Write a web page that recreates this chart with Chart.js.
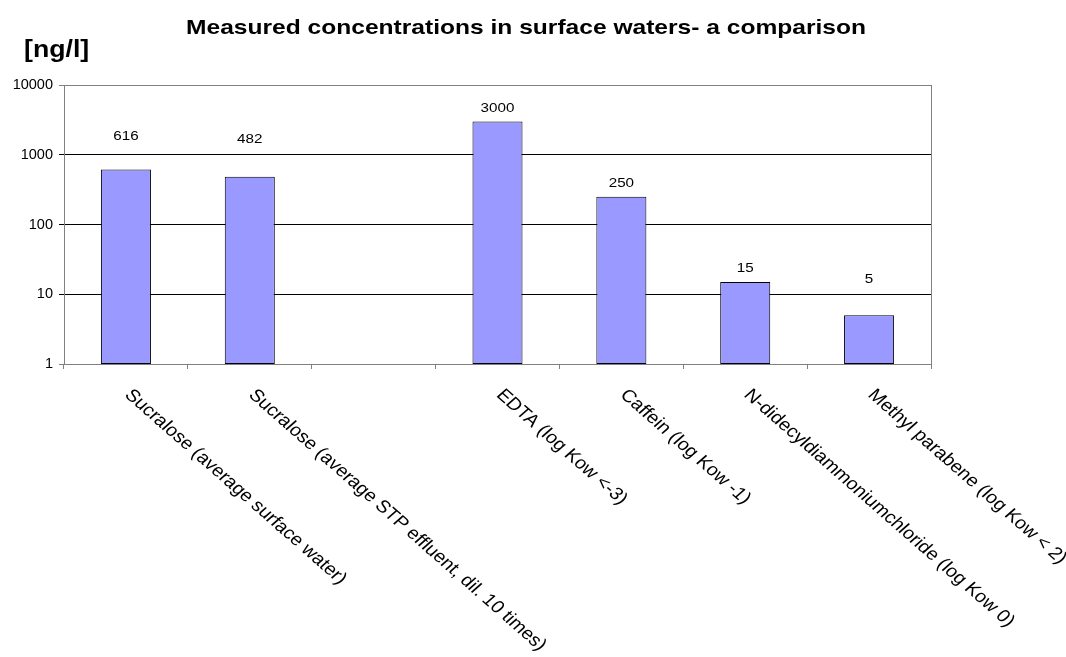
<!DOCTYPE html>
<html>
<head>
<meta charset="utf-8">
<script src="https://cdn.jsdelivr.net/npm/chart.js@4.4.1/dist/chart.umd.min.js"></script>
<style>
  html, body { margin: 0; padding: 0; background: #ffffff; }
  #wrap { width: 1066px; height: 657px; }
</style>
</head>
<body>
<div id="wrap"><canvas id="chart" width="1066" height="657"></canvas></div>
<script>
// Chart text
const chartTitle = 'Measured concentrations in surface waters- a comparison';
const unitLabel = '[ng/l]';

// Substances (the third slot is an intentional gap between the two groups)
const categories = [
  'Sucralose (average surface water)',
  'Sucralose (average STP effluent, dil. 10 times)',
  '',
  'EDTA (log Kow <-3)',
  'Caffein (log Kow -1)',
  'N-didecyldiammoniumchloride (log Kow 0)',
  'Methyl parabene (log Kow < 2)'
];

// Measured concentrations in ng/l
const concentrations = [616, 482, null, 3000, 250, 15, 5];

// Decades shown on the logarithmic axis
const yTicks = [1, 10, 100, 1000, 10000];

const FONT = '"Liberation Sans", Arial, sans-serif';

// Writes text with a slightly widened letter shape (horizontal stretch sx).
function wideText(ctx, text, x, y, sx, angleDeg, dy) {
  ctx.save();
  ctx.translate(x, y);
  ctx.scale(sx, 1);
  if (angleDeg) ctx.rotate(angleDeg * Math.PI / 180);
  ctx.fillText(text, 0, dy || 0);
  ctx.restore();
}

// Draws the title, the unit, the value labels, the slanted category names
// and the right-hand frame line of the plot area.
const decorations = {
  id: 'decorations',
  afterDraw(chart, args, opts) {
    const { ctx, chartArea: area, scales: { x } } = chart;
    ctx.save();

    // right frame line
    ctx.strokeStyle = '#808080';
    ctx.lineWidth = 1;
    const rx = Math.round(area.right) + 0.5;
    ctx.beginPath();
    ctx.moveTo(rx, area.top);
    ctx.lineTo(rx, area.bottom);
    ctx.stroke();

    ctx.fillStyle = '#000000';
    ctx.textBaseline = 'alphabetic';

    // title
    ctx.font = 'bold ' + opts.titleSize + 'px ' + FONT;
    ctx.textAlign = 'center';
    wideText(ctx, chartTitle, opts.titleX, opts.titleY, opts.stretch);

    // unit
    ctx.font = 'bold ' + opts.unitSize + 'px ' + FONT;
    ctx.textAlign = 'left';
    wideText(ctx, unitLabel, opts.unitX, opts.unitY, opts.unitStretch);

    // value labels above the bars
    ctx.font = opts.valueSize + 'px ' + FONT;
    ctx.textAlign = 'center';
    const meta = chart.getDatasetMeta(0);
    meta.data.forEach((bar, i) => {
      const v = concentrations[i];
      if (v === null || v === undefined) return;
      wideText(ctx, String(v), bar.x, bar.y - opts.labelLift[i], opts.stretch);
    });

    // slanted category names
    const size = opts.catSize;
    ctx.font = size + 'px ' + FONT;
    ctx.textAlign = 'left';
    const capH = size * 0.716;
    categories.forEach((name, i) => {
      if (!name) return;
      const px = x.getPixelForValue(i) + opts.catDx;
      const py = area.bottom + opts.catDy;
      wideText(ctx, name, px, py, opts.catStretch, opts.catAngle, capH);
    });

    ctx.restore();
  }
};

new Chart(document.getElementById('chart'), {
  type: 'bar',
  data: {
    labels: categories,
    datasets: [{
      data: concentrations,
      backgroundColor: '#9999FF',
      borderColor: '#000000',
      borderWidth: 1,
      borderSkipped: false,
      categoryPercentage: 1.0,
      barPercentage: 0.404
    }]
  },
  options: {
    responsive: false,
    animation: false,
    devicePixelRatio: 1,
    layout: { padding: { left: 0, top: 85, right: 135, bottom: 0 } },
    plugins: {
      legend: { display: false },
      tooltip: { enabled: false },
      decorations: {
        stretch: 1.17,
        titleSize: 21, titleX: 526, titleY: 34,
        unitSize: 23, unitStretch: 1.16, unitX: 24, unitY: 57,
        valueSize: 13,
        labelLift: [29, 34, 0, 9, 10, 10, 32],
        catSize: 17.5, catStretch: 1.14, catAngle: 45, catDx: 8, catDy: 23
      }
    },
    scales: {
      x: {
        type: 'category',
        offset: true,
        grid: {
          offset: true,
          drawOnChartArea: false,
          drawTicks: true,
          tickLength: 5,
          color: '#808080',
          lineWidth: 1
        },
        border: { display: true, color: '#808080', width: 1 },
        ticks: { display: false },
        afterFit(scale) { scale.height = 657 - 364; }
      },
      y: {
        type: 'logarithmic',
        min: 1,
        max: 10000,
        afterBuildTicks(scale) {
          scale.ticks = yTicks.map(v => ({ value: v }));
        },
        afterFit(scale) { scale.width = 64; },
        grid: {
          drawTicks: true,
          tickLength: 5,
          lineWidth: 1,
          color(ctx) {
            const v = ctx.tick ? ctx.tick.value : null;
            return (v === 10000 || v === 1) ? '#808080' : '#000000';
          }
        },
        border: { display: true, color: '#808080', width: 1 },
        ticks: {
          color: '#000000',
          padding: 6,
          font: { family: FONT, size: 14.5 },
          callback: (value) => String(value)
        }
      }
    }
  },
  plugins: [decorations]
});
</script>
</body>
</html>
